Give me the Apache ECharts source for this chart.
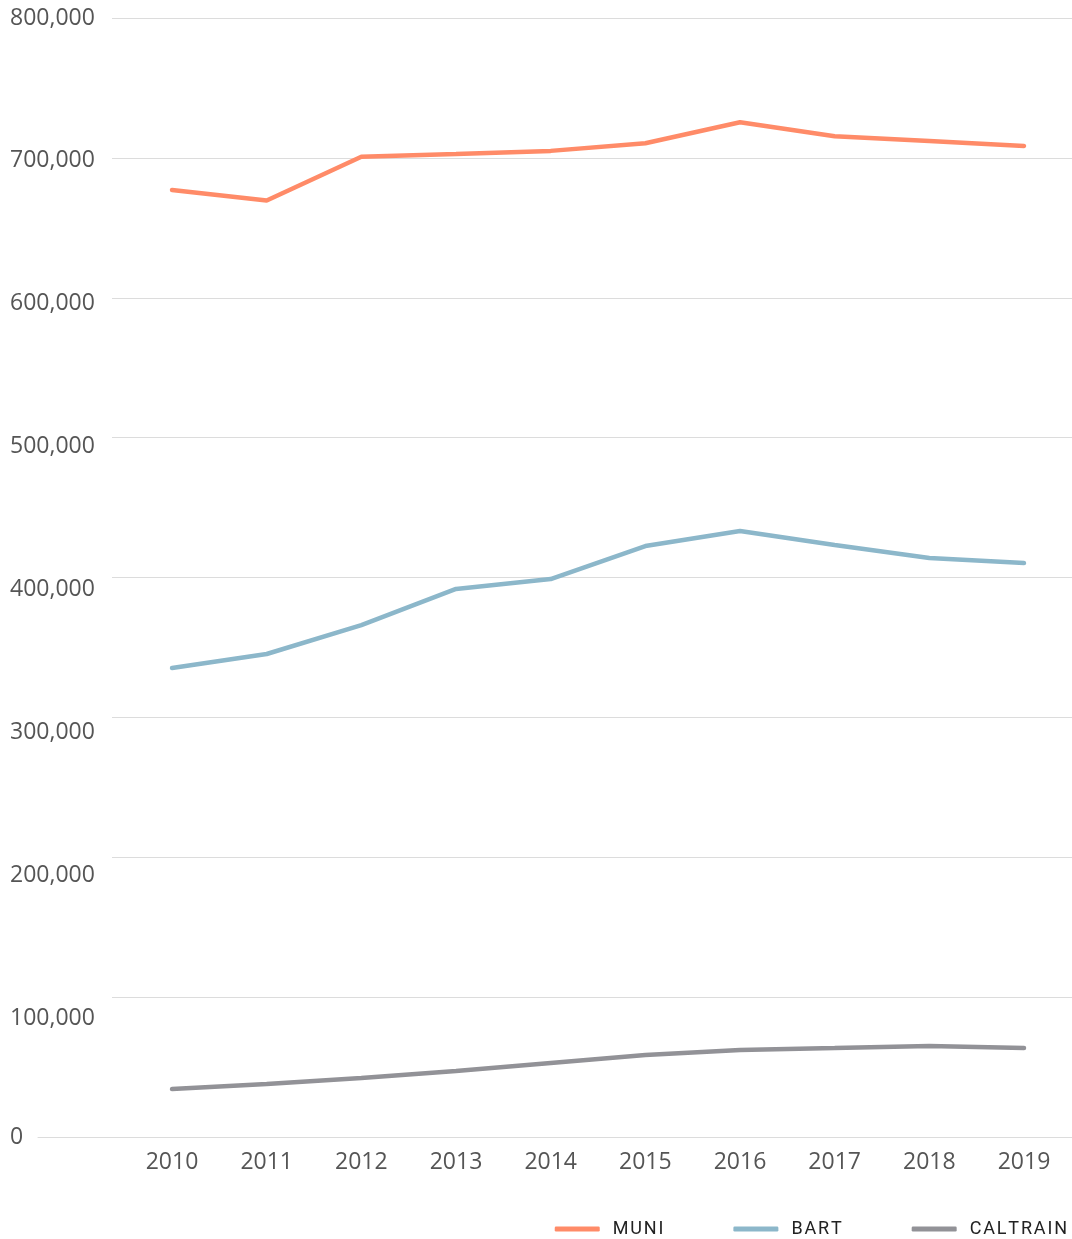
<!DOCTYPE html>
<html>
<head>
<meta charset="utf-8">
<script src="https://cdn.jsdelivr.net/npm/echarts@6/dist/echarts.min.js"></script>
<style>html,body{margin:0;padding:0;background:#fff}#c{width:1072px;height:1239px}</style>
</head>
<body>
<div id="c"></div>
<script>
const years = [2010, 2011, 2012, 2013, 2014, 2015, 2016, 2017, 2018, 2019];
const muni = [677000, 669500, 700800, 702700, 705000, 710500, 725500, 715500, 712000, 708500];
const bart = [335300, 345300, 366000, 391800, 398900, 422500, 433200, 423200, 413900, 410300];
const caltrain = [34300, 37900, 42200, 47200, 52900, 58600, 62200, 63600, 65100, 63600];
const yTicks = [0, 100000, 200000, 300000, 400000, 500000, 600000, 700000, 800000];
const seriesNames = ['MUNI', 'BART', 'CALTRAIN'];

const pair = arr => years.map((y, i) => [y, arr[i]]);
const font = '"Open Sans", Roboto, sans-serif';
const fmt = v => v.toLocaleString('en-US');
const labelBase = {align: 'left', margin: 102, color: '#555', fontSize: 23, fontFamily: font, formatter: fmt};

const chart = echarts.init(document.getElementById('c'), null, {renderer: 'canvas'});
chart.setOption({
  animation: false,
  backgroundColor: '#fff',
  grid: [
    {left: 112, right: 0, top: 18, bottom: 102, containLabel: false},
    {left: 38, right: 0, top: 18, bottom: 102, containLabel: false}
  ],
  xAxis: [
    {
      gridIndex: 0, type: 'value',
      min: 2009.366, max: 2019.507,
      axisLine: {show: false}, axisTick: {show: false}, splitLine: {show: false},
      axisLabel: {customValues: years, formatter: v => String(v), color: '#555', fontSize: 23, fontFamily: font, margin: 14}
    },
    {
      gridIndex: 1, type: 'value', min: 0, max: 1,
      axisLine: {show: true, lineStyle: {color: '#dcdcdc', width: 1}},
      axisTick: {show: false}, splitLine: {show: false}, axisLabel: {show: false}
    }
  ],
  yAxis: [
    {
      gridIndex: 0, type: 'value', position: 'left',
      min: 0, max: 800000, interval: 100000,
      axisLine: {show: false}, axisTick: {show: false},
      splitLine: {lineStyle: {color: '#dcdcdc', width: 1}},
      axisLabel: Object.assign({}, labelBase, {customValues: [yTicks[0]], margin: 102, padding: [2, 0, 0, 0]})
    },
    {
      gridIndex: 0, type: 'value', position: 'left', offset: 0,
      min: 16700, max: 800000,
      axisLine: {show: false}, axisTick: {show: false}, splitLine: {show: false},
      axisLabel: Object.assign({}, labelBase, {customValues: yTicks.slice(1), padding: [3, 0, 0, 0]})
    },
    {gridIndex: 1, type: 'value', show: false, min: 0, max: 1}
  ],
  legend: {
    right: 0, top: 1215,
    icon: 'roundRect',
    itemWidth: 45, itemHeight: 5, itemGap: 70,
    textStyle: {color: '#222', fontSize: 18, fontFamily: 'Roboto, sans-serif', padding: [0, 0, 0, 8]},
    formatter: n => n.split('').join('\u200A'),
    data: seriesNames
  },
  series: [
    {name: seriesNames[0], type: 'line', xAxisIndex: 0, yAxisIndex: 0, data: pair(muni), symbol: 'none', lineStyle: {width: 4.5, color: '#ff8b68', cap: 'round'}, itemStyle: {color: '#ff8b68'}},
    {name: seriesNames[1], type: 'line', xAxisIndex: 0, yAxisIndex: 0, data: pair(bart), symbol: 'none', lineStyle: {width: 4.5, color: '#8cb7ca', cap: 'round'}, itemStyle: {color: '#8cb7ca'}},
    {name: seriesNames[2], type: 'line', xAxisIndex: 0, yAxisIndex: 0, data: pair(caltrain), symbol: 'none', lineStyle: {width: 4.5, color: '#929297', cap: 'round'}, itemStyle: {color: '#929297'}}
  ]
});
</script>
</body>
</html>
